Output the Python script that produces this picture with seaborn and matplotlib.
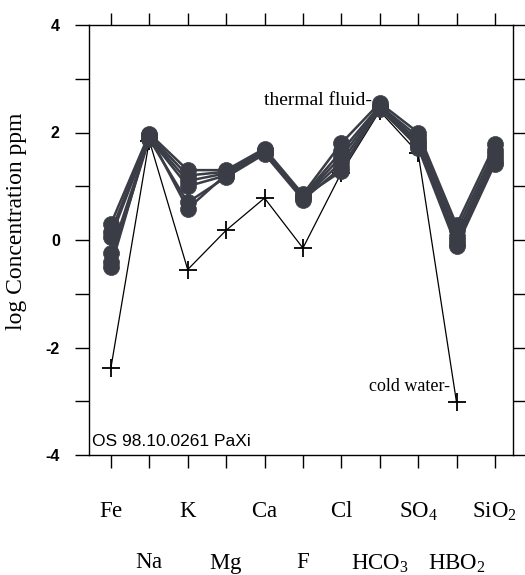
import numpy as np
import pandas as pd
import matplotlib
matplotlib.use("Agg")
import matplotlib.pyplot as plt
import seaborn as sns

# ---- data ----
ions = ["Fe", "Na", "K", "Mg", "Ca", "F", "Cl", "HCO3", "SO4", "HBO2", "SiO2"]
tick_labels = [r"$\mathrm{Fe}$", r"$\mathrm{Na}$", r"$\mathrm{K}$", r"$\mathrm{Mg}$",
               r"$\mathrm{Ca}$", r"$\mathrm{F}$", r"$\mathrm{Cl}$", r"$\mathrm{HCO_3}$",
               r"$\mathrm{SO_4}$", r"$\mathrm{HBO_2}$", r"$\mathrm{SiO_2}$"]

thermal_1 = [0.30, 1.98, 1.30, 1.30, 1.70, 0.85, 1.80, 2.55, 2.00, 0.28, 1.78]
thermal_2 = [0.15, 1.95, 1.20, 1.27, 1.67, 0.82, 1.65, 2.50, 1.92, 0.18, 1.68]
thermal_3 = [0.05, 1.92, 1.10, 1.24, 1.64, 0.80, 1.55, 2.48, 1.85, 0.08, 1.60]
thermal_4 = [-0.25, 1.90, 1.00, 1.20, 1.62, 0.78, 1.45, 2.45, 1.80, 0.00, 1.52]
thermal_5 = [-0.40, 1.88, 0.70, 1.17, 1.60, 0.75, 1.35, 2.43, 1.75, -0.08, 1.45]
thermal_6 = [-0.50, 1.95, 0.58, 1.22, 1.66, 0.80, 1.28, 2.47, 1.72, -0.12, 1.42]
cold_water = [-2.38, 1.85, -0.55, 0.18, 0.78, -0.15, 1.25, 2.40, 1.62, -3.02, np.nan]

thermal_samples = [thermal_1, thermal_2, thermal_3, thermal_4, thermal_5, thermal_6]

rows = []
for s, vals in enumerate(thermal_samples):
    for i, v in enumerate(vals):
        rows.append({"pos": i, "ion": ions[i], "value": v, "sample": s})
df_thermal = pd.DataFrame(rows)
df_cold = pd.DataFrame({"pos": np.arange(len(ions)), "ion": ions, "value": cold_water})

# ---- style ----
sns.set_style("ticks")
plt.rcParams["font.family"] = ["Liberation Serif", "DejaVu Serif"]
plt.rcParams["mathtext.fontset"] = "custom"
plt.rcParams["mathtext.rm"] = "Liberation Serif"
plt.rcParams["mathtext.it"] = "Liberation Serif:italic"
plt.rcParams["mathtext.bf"] = "Liberation Serif:bold"
for key in ["text.color", "axes.labelcolor", "xtick.color", "ytick.color", "axes.edgecolor"]:
    plt.rcParams[key] = "black"

fig = plt.figure(figsize=(5.25, 5.75), dpi=100)
ax = fig.add_axes([89 / 525, 1 - 455 / 575, 424 / 525, 430 / 575])

dark = "#3a3d46"
sns.lineplot(data=df_cold, x="pos", y="value", ax=ax, color="black",
             marker="+", markersize=13, markeredgewidth=1.3,
             markeredgecolor="black", linewidth=0.9)
sns.lineplot(data=df_thermal, x="pos", y="value", units="sample", estimator=None,
             ax=ax, color=dark, marker="o", markersize=11.5,
             markeredgecolor=dark, markeredgewidth=0.5, linewidth=1.8)

ax.set_xlim(-0.57, 10.47)
ax.set_ylim(-4, 4)

ax.set_xticks(range(len(ions)))
ax.set_xticklabels(tick_labels, fontsize=16.5)
ax.set_yticks(range(-4, 5))
ax.set_yticklabels([str(v) if v % 2 == 0 else "" for v in range(-4, 5)],
                   family="Liberation Sans", fontsize=11.5, fontweight="bold")

ax.tick_params(axis="both", direction="out", length=9, width=1, color="black",
               top=True, right=True, labeltop=False, labelright=False)
ax.tick_params(axis="y", length=10, pad=11)
for i, t in enumerate(ax.xaxis.get_major_ticks()):
    t.set_pad(24 if i % 2 == 0 else 61)
for sp in ax.spines.values():
    sp.set_visible(True)
    sp.set_linewidth(1.0)
    sp.set_color("black")

ax.set_xlabel("")
ax.set_ylabel("log Concentration ppm", fontsize=17)
ax.yaxis.set_label_coords(-0.146, 0.544)

ax.text(6.80, 2.6, "thermal fluid-", ha="right", va="center", fontsize=14)
ax.text(8.82, -2.72, "cold water-", ha="right", va="center", fontsize=13)
ax.text(0.007, 0.014, "OS 98.10.0261 PaXi", transform=ax.transAxes,
        ha="left", va="bottom", family="Liberation Sans", fontsize=12.5)

fig.savefig("out.png", dpi=100)
